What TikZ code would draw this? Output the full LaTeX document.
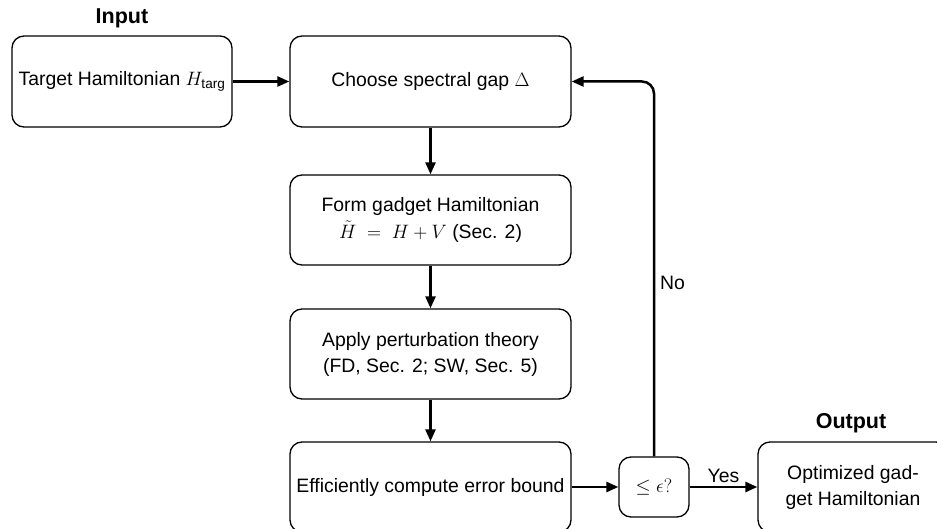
\RequirePackage{fix-cm}
\documentclass[tikz,border=0pt]{standalone}
\usepackage{amsmath}
\usepackage{fontspec}
\setmainfont{Liberation Sans}
\usetikzlibrary{arrows.meta}

\begin{document}
\begin{tikzpicture}[x=1pt,y=-1pt,
  font=\fontsize{19.4}{26}\selectfont,
  box/.style={draw, line width=1.3pt, rounded corners=12pt, align=center, inner sep=0pt},
  flow/.style={line width=2.5pt, -{Triangle[length=12pt,width=10pt]}},
  heading/.style={font=\fontsize{21.5}{25}\selectfont\bfseries}]

\useasboundingbox (0,0) rectangle (937,529);

% process boxes
\node[box, minimum width=220pt, minimum height=91pt] (tgt) at (122,81.5)
  {Target Hamiltonian $H_{\text{targ}}$};
\node[box, minimum width=281pt, minimum height=91pt] (choose) at (430.5,81.5)
  {Choose spectral gap $\Delta$};
\node[box, minimum width=281pt, minimum height=90pt] (form) at (430.5,220)
  {Form gadget Hamiltonian\\[1pt] $\tilde{H} \;=\; H + V$ (Sec. 2)};
\node[box, minimum width=281pt, minimum height=90pt] (apply) at (430.5,354)
  {Apply perturbation theory\\ (FD, Sec. 2; SW, Sec. 5)};
\node[box, minimum width=281pt, minimum height=90pt] (eff) at (430.5,487)
  {Efficiently compute error bound};
\node[box, minimum width=70pt, minimum height=60pt] (chk) at (654,487)
  {$\leq \epsilon?$};
\node[box, minimum width=190pt, minimum height=90pt] (out) at (853,487)
  {Optimized gad-\\get Hamiltonian};

% headings
\node[heading] (inlbl) at (122,18) {Input};
\node[heading] (outlbl) at (851,423) {Output};

% connectors
\draw[flow] (tgt.east) -- (choose.west);
\draw[flow] (choose.south) -- (form.north);
\draw[flow] (form.south) -- (apply.north);
\draw[flow] (apply.south) -- (eff.north);
\draw[flow] (eff.east) -- (chk.west);
\draw[flow] (chk.east) -- node[above, inner sep=3pt] (yes) {Yes} (out.west);
\draw[flow, rounded corners=12pt] (chk.north) |- (choose.east);
\node[anchor=west, inner sep=0pt] (no) at (660,283) {No};

\end{tikzpicture}
\end{document}
